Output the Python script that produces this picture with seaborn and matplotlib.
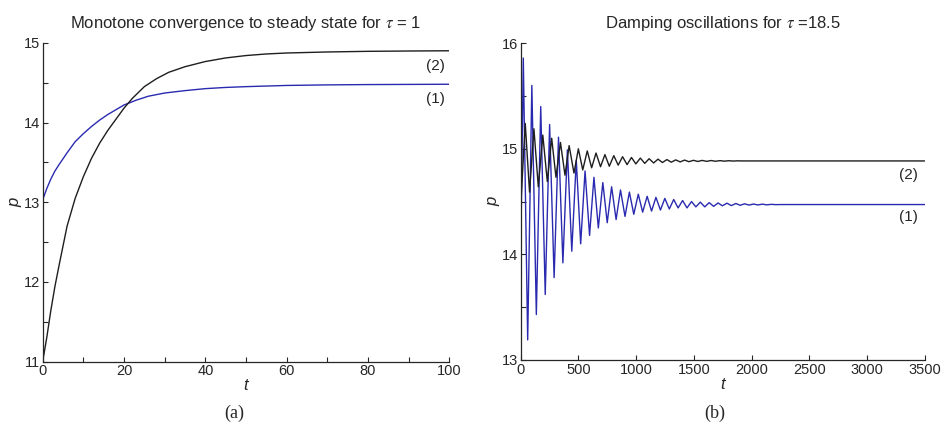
import matplotlib
matplotlib.use("Agg")
import matplotlib.pyplot as plt
import pandas as pd
import seaborn as sns
from matplotlib.ticker import MultipleLocator

# panel (a): monotone convergence, tau = 1
t_a1 = [0, 1, 2, 3, 4, 6, 8, 10, 12, 14, 16, 18, 20, 23, 26, 30, 35, 40, 45, 50, 60, 70, 80,
        90, 100]
p1_a = [13.03, 13.17, 13.29, 13.39, 13.47, 13.62, 13.76, 13.86, 13.95, 14.03, 14.10, 14.16,
        14.22, 14.28, 14.33, 14.37, 14.40, 14.425, 14.44, 14.45, 14.465, 14.472, 14.476,
        14.478, 14.48]
t_a2 = [0, 1, 2, 3, 4, 5, 6, 8, 10, 12, 14, 16, 18, 20, 22, 25, 28, 31, 35, 40, 45, 50, 55,
        60, 70, 80, 90, 100]
p2_a = [11.0, 11.3, 11.64, 11.94, 12.2, 12.45, 12.7, 13.05, 13.32, 13.55, 13.74, 13.9, 14.04,
        14.18, 14.3, 14.45, 14.55, 14.63, 14.7, 14.765, 14.81, 14.84, 14.86, 14.872, 14.885,
        14.893, 14.897, 14.9]

# panel (b): damped oscillations, tau = 18.5 (extrema)
t_b1 = [0, 23, 61, 97, 136, 174, 213, 251, 290, 328, 366, 405, 443, 482, 520, 558, 597, 635,
        673, 712, 750, 788, 827, 865, 904, 942, 980, 1019, 1057, 1096, 1134, 1172, 1211, 1249,
        1288, 1326, 1364, 1403, 1441, 1480, 1518, 1556, 1595, 1633, 1672, 1710, 1748, 1787,
        1825, 1864, 1902, 1940, 1979, 2017, 2056, 2094, 2132, 2171, 2209, 2250, 3500]
p_b1 = [13.92, 15.86, 13.19, 15.60, 13.43, 15.40, 13.62, 15.23, 13.78, 15.11, 13.92, 14.99,
        14.03, 14.89, 14.10, 14.79, 14.18, 14.73, 14.25, 14.68, 14.30, 14.64, 14.33, 14.61,
        14.36, 14.59, 14.38, 14.57, 14.40, 14.55, 14.41, 14.54, 14.42, 14.53, 14.43, 14.52,
        14.44, 14.51, 14.44, 14.50, 14.45, 14.495, 14.45, 14.49, 14.455, 14.487, 14.46,
        14.485, 14.462, 14.482, 14.465, 14.479, 14.467, 14.477, 14.468, 14.476, 14.469,
        14.474, 14.471, 14.472, 14.472]

t_b2 = [0, 40, 77, 115, 153, 192, 231, 269, 306, 345, 384, 420, 462, 500, 538, 577, 615, 653,
        692, 730, 768, 807, 845, 883, 922, 960, 998, 1037, 1075, 1113, 1152, 1190, 1228, 1267,
        1305, 1343, 1382, 1420, 1458, 1497, 1535, 1573, 1612, 1650, 1688, 1727, 1765, 1803,
        1842, 1880, 1920, 3500]
p_b2 = [14.45, 15.24, 14.59, 15.19, 14.64, 15.13, 14.69, 15.10, 14.73, 15.06, 14.75, 15.03,
        14.77, 15.00, 14.80, 14.98, 14.82, 14.96, 14.83, 14.945, 14.835, 14.935, 14.845,
        14.925, 14.85, 14.918, 14.857, 14.912, 14.862, 14.906, 14.866, 14.902, 14.87, 14.898,
        14.873, 14.895, 14.876, 14.893, 14.878, 14.891, 14.88, 14.89, 14.881, 14.889, 14.882,
        14.888, 14.883, 14.887, 14.884, 14.886, 14.885, 14.885]

BLUE = "#2a2ab0"
BLACK = "#1e1e1e"


def long_frame(pairs):
    rows = []
    for name, ts, ps in pairs:
        rows.append(pd.DataFrame({"t": ts, "p": ps, "curve": name}))
    return pd.concat(rows, ignore_index=True)


sns.set_style("ticks")
plt.rcParams["font.family"] = ["Liberation Sans", "DejaVu Sans"]
plt.rcParams["mathtext.fontset"] = "stix"

fig = plt.figure(figsize=(9.42, 4.28), dpi=100)
ax_a = fig.add_axes([0.0453, 0.155, 0.4317, 0.745])
ax_b = fig.add_axes([0.5527, 0.159, 0.4289, 0.740])

palette = {"(1)": BLUE, "(2)": BLACK}

df_a = long_frame([("(1)", t_a1, p1_a), ("(2)", t_a2, p2_a)])
sns.lineplot(data=df_a, x="t", y="p", hue="curve", palette=palette, sort=False,
             estimator=None, linewidth=1.0, legend=False, ax=ax_a)

df_b = long_frame([("(1)", t_b1, p_b1), ("(2)", t_b2, p_b2)])
sns.lineplot(data=df_b, x="t", y="p", hue="curve", palette=palette, sort=False,
             estimator=None, linewidth=1.0, legend=False, ax=ax_b)

ax_a.set_xlim(0, 100)
ax_a.set_ylim(11, 15)
ax_a.xaxis.set_major_locator(MultipleLocator(20))
ax_a.xaxis.set_minor_locator(MultipleLocator(10))
ax_a.yaxis.set_major_locator(MultipleLocator(1))
ax_a.yaxis.set_minor_locator(MultipleLocator(0.5))
ax_a.set_title(r"Monotone convergence to steady state for $\tau$ = 1", fontsize=12, pad=11)
ax_a.text(96.7, 14.71, "(2)", fontsize=11, ha="center", va="center")
ax_a.text(96.7, 14.29, "(1)", fontsize=11, ha="center", va="center")

ax_b.set_xlim(0, 3500)
ax_b.set_ylim(13, 16)
ax_b.xaxis.set_major_locator(MultipleLocator(500))
ax_b.yaxis.set_major_locator(MultipleLocator(1))
ax_b.yaxis.set_minor_locator(MultipleLocator(0.5))
ax_b.set_title(r"Damping oscillations for $\tau$ =18.5", fontsize=12, pad=11)
ax_b.text(3356, 14.75, "(2)", fontsize=11, ha="center", va="center")
ax_b.text(3356, 14.35, "(1)", fontsize=11, ha="center", va="center")

for ax in (ax_a, ax_b):
    sns.despine(ax=ax)
    ax.tick_params(which="both", direction="in", length=3.5, width=0.8, labelsize=10.5, pad=2)
    ax.spines["left"].set_linewidth(0.9)
    ax.spines["bottom"].set_linewidth(0.9)
    ax.set_xlabel("t", fontstyle="italic", fontsize=12, labelpad=0)
    ax.set_ylabel("p", fontstyle="italic", fontsize=12, labelpad=1)

fig.text(0.249, 0.035, "(a)", family=["Liberation Serif", "DejaVu Serif"], fontsize=13,
         ha="center", va="center")
fig.text(0.759, 0.035, "(b)", family=["Liberation Serif", "DejaVu Serif"], fontsize=13,
         ha="center", va="center")

fig.savefig("out.png", dpi=100)
